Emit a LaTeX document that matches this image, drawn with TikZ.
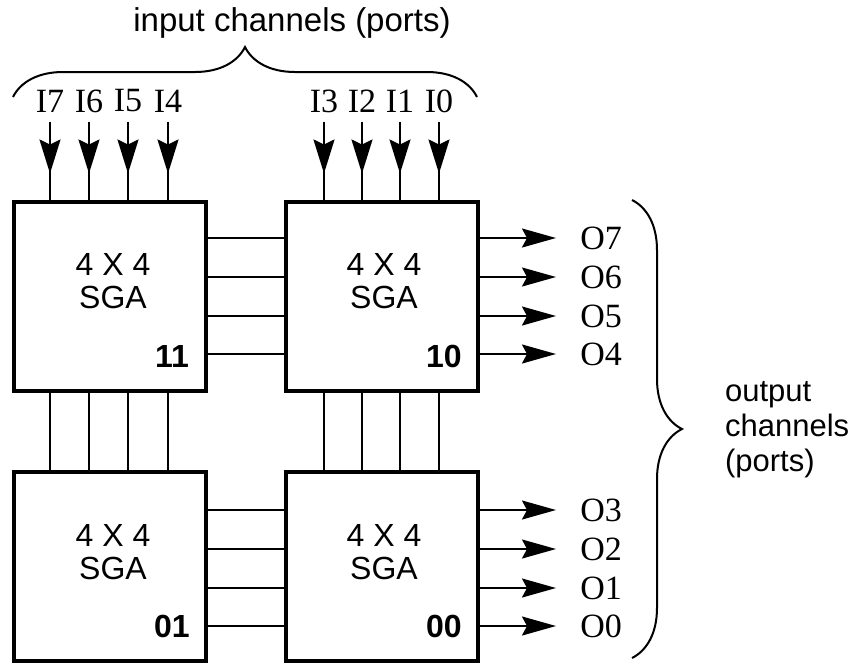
\documentclass[tikz,border=0pt]{standalone}
\usepackage{fontspec}
\setmainfont{Liberation Serif}
\setsansfont{Liberation Sans}
\usetikzlibrary{arrows.meta,decorations.pathreplacing,decorations.markings}

\begin{document}
\begin{tikzpicture}[
    x=0.5pt, y=-0.5pt,
    sga/.style={
        draw,
        line width=2pt,
        minimum width=96pt,
        minimum height=94.5pt,
        inner sep=0pt
    },
    sgatext/.style={font=\sffamily\fontsize{16}{16.5}\selectfont, align=center},
    addr/.style={font=\sffamily\bfseries\fontsize{16}{16}\selectfont},
    port/.style={font=\fontsize{17}{17}\selectfont, inner sep=1pt},
    caption/.style={font=\sffamily\fontsize{16.5}{17.5}\selectfont, align=left},
    wire/.style={line width=1pt},
    outarrow/.style={wire, -{Stealth[length=17pt, width=9.5pt, inset=2.5pt]}},
    inarrow/.style={
        wire,
        postaction={decorate},
        decoration={markings,
            mark=at position -13pt with {\arrow{Stealth[length=17pt, width=10.5pt, inset=2.5pt]}}}
    },
    bracket/.style={decorate, decoration={brace, amplitude=25pt}, line width=1pt}
]
\useasboundingbox (0,0) rectangle (852,666);

% Griglia 2x2 di switch
\node[sga] (b11) at (110,296) {};
\node[sga] (b10) at (381.5,296) {};
\node[sga] (b01) at (110,566.5) {};
\node[sga] (b00) at (381.5,566.5) {};

\node[sgatext] (t11) at (113,281) {4 X 4\\SGA};
\node[sgatext] (t10) at (384,281) {4 X 4\\SGA};
\node[sgatext] (t01) at (113,552) {4 X 4\\SGA};
\node[sgatext] (t00) at (384,552) {4 X 4\\SGA};

\node[addr] (n11) at (172,356) {11};
\node[addr] (n10) at (444,356) {10};
\node[addr] (n01) at (172,626) {01};
\node[addr] (n00) at (444,626) {00};

% Ingressi
\foreach \n/\x in {7/50, 6/89, 5/128, 4/168}
    \node[port] (i\n) at (\x,101) {I\n};
\foreach \n/\x in {3/324, 2/362, 1/400, 0/439}
    \node[port] (i\n) at (\x,101) {I\n};

\foreach \n in {7,6,5,4} {
    \draw[inarrow] (i\n.south) ++(0,7) -- (i\n |- b11.north);
    \draw[wire] (i\n |- b11.south) -- (i\n |- b01.north);
}
\foreach \n in {3,2,1,0} {
    \draw[inarrow] (i\n.south) ++(0,7) -- (i\n |- b10.north);
    \draw[wire] (i\n |- b10.south) -- (i\n |- b00.north);
}

% Uscite
\foreach \n/\y in {7/238, 6/277, 5/316, 4/354, 3/510, 2/549, 1/588, 0/626}
    \node[port, anchor=west] (o\n) at (578,\y) {O\n};

\foreach \n in {7,6,5,4} {
    \draw[wire] (o\n -| b11.east) -- (o\n -| b10.west);
    \draw[outarrow] (o\n -| b10.east) -- ([xshift=-11pt]o\n.west);
}
\foreach \n in {3,2,1,0} {
    \draw[wire] (o\n -| b01.east) -- (o\n -| b00.west);
    \draw[outarrow] (o\n -| b00.east) -- ([xshift=-11pt]o\n.west);
}

% Graffe
\draw[bracket] (13,97) -- (477,97);
\node[caption] (incap) at (292,23) {input channels (ports)};

\draw[bracket] (632,200) -- (632,658);
\node[caption, anchor=west, font=\sffamily\fontsize{15.5}{17.5}\selectfont] (outcap) at (718,430) {output\\channels\\(ports)};

\end{tikzpicture}
\end{document}
